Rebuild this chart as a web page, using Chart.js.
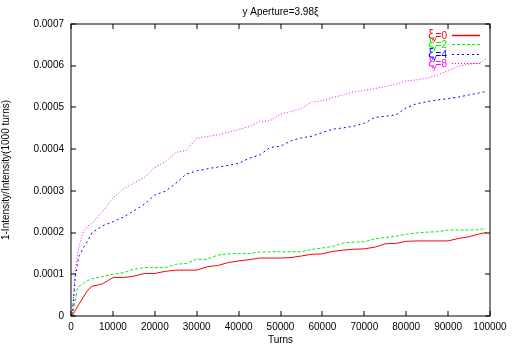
<!DOCTYPE html>
<html>
<head>
<meta charset="utf-8">
<script src="https://cdn.jsdelivr.net/npm/chart.js@4.4.1/dist/chart.umd.min.js"></script>
<style>
  html, body { margin: 0; padding: 0; background: #fff; }
  #wrap { width: 512px; height: 348px; }
</style>
</head>
<body>
<div id="wrap"><canvas id="chart"></canvas></div>
<script>
// values, intensity loss in units of 1e-4
const turns = [300, 1000, 1500, 2000, 3000, 4000, 5000, 7500, 10000, 12500, 15000, 17500, 20000, 22500, 25000, 27500, 30000,
  32500, 35000, 37500, 40000, 42500, 45000, 47500, 50000, 52500, 55000, 57500, 60000, 62500, 65000, 67500, 70000,
  72500, 75000, 77500, 80000, 82500, 85000, 87500, 90000, 92500, 95000, 97500, 99000];
const xi0 = [0, 0.13, 0.22, 0.30, 0.46, 0.62, 0.71, 0.77, 0.92, 0.92, 0.955, 1.02, 1.02, 1.07, 1.10, 1.10, 1.10,
  1.18, 1.21, 1.28, 1.32, 1.35, 1.39, 1.39, 1.39, 1.40, 1.44, 1.48, 1.49, 1.55, 1.58, 1.60, 1.61,
  1.65, 1.73, 1.74, 1.79, 1.80, 1.80, 1.80, 1.80, 1.86, 1.90, 1.97, 2.00];
const xi2 = [0, 0.36, 0.66, 0.72, 0.78, 0.85, 0.89, 0.95, 1.00, 1.04, 1.12, 1.16, 1.16, 1.16, 1.24, 1.26, 1.36,
  1.36, 1.46, 1.49, 1.50, 1.50, 1.53, 1.54, 1.54, 1.54, 1.54, 1.60, 1.63, 1.67, 1.75, 1.77, 1.78,
  1.85, 1.88, 1.91, 1.96, 1.99, 2.01, 2.02, 2.06, 2.06, 2.06, 2.07, 2.10];
const xi4 = [0, 0.90, 1.25, 1.45, 1.64, 1.80, 2.00, 2.16, 2.26, 2.37, 2.52, 2.68, 2.90, 2.99, 3.18, 3.40, 3.48,
  3.53, 3.57, 3.61, 3.66, 3.78, 3.86, 4.04, 4.07, 4.20, 4.27, 4.31, 4.40, 4.48, 4.51, 4.55, 4.62,
  4.76, 4.79, 4.82, 4.99, 5.09, 5.14, 5.18, 5.21, 5.25, 5.30, 5.35, 5.38];
const xi8 = [0, 1.05, 1.42, 1.70, 2.04, 2.15, 2.22, 2.50, 2.83, 3.05, 3.19, 3.32, 3.56, 3.70, 3.92, 3.97, 4.26,
  4.30, 4.34, 4.40, 4.47, 4.54, 4.66, 4.68, 4.84, 4.90, 4.98, 5.13, 5.16, 5.24, 5.30, 5.38, 5.41,
  5.45, 5.50, 5.55, 5.64, 5.66, 5.70, 5.78, 5.88, 5.99, 6.04, 6.06, 6.17];

const seriesNames = ['0', '2', '4', '8'];
const seriesColors = ['#ff0000', '#00ee00', '#0000ff', '#ff00ff'];
const seriesDash = [[], [3, 2], [2, 3], [1, 2]];
const seriesValues = [xi0, xi2, xi4, xi8];

const FONT = '"Liberation Sans", Arial, sans-serif';

const datasets = seriesValues.map((vals, i) => ({
  label: 'ξy=' + seriesNames[i],
  data: turns.map((t, k) => ({ x: t, y: vals[k] * 1e-4 })),
  borderColor: seriesColors[i],
  borderWidth: 1,
  borderDash: seriesDash[i],
  pointRadius: 0,
  tension: 0,
  fill: false
}));

// gnuplot style frame, inward ticks, title and legend
const framePlugin = {
  id: 'frame',
  afterDraw(chart) {
    const ctx = chart.ctx;
    const a = chart.chartArea;
    const xs = chart.scales.x, ys = chart.scales.y;
    ctx.save();
    ctx.strokeStyle = '#000';
    ctx.lineWidth = 1;
    ctx.setLineDash([]);
    ctx.strokeRect(a.left, a.top, a.right - a.left, a.bottom - a.top);
    ctx.beginPath();
    xs.ticks.forEach(t => {
      const px = Math.round(xs.getPixelForValue(t.value));
      ctx.moveTo(px, a.bottom); ctx.lineTo(px, a.bottom - 5);
      ctx.moveTo(px, a.top); ctx.lineTo(px, a.top + 5);
    });
    ys.ticks.forEach(t => {
      const py = Math.round(ys.getPixelForValue(t.value));
      ctx.moveTo(a.left, py); ctx.lineTo(a.left + 5, py);
      ctx.moveTo(a.right, py); ctx.lineTo(a.right - 5, py);
    });
    ctx.stroke();

    // title
    ctx.fillStyle = '#000';
    ctx.font = '10px ' + FONT;
    ctx.textAlign = 'center';
    ctx.textBaseline = 'middle';
    ctx.fillText('y Aperture=3.98ξ', (a.left + a.right) / 2, 12);

    // legend
    const rowY = [35, 44, 54, 63];
    const rightText = 447;
    seriesNames.forEach((name, i) => {
      const y = rowY[i];
      const rest = '=' + name;
      ctx.font = '10px ' + FONT;
      const wRest = ctx.measureText(rest).width;
      ctx.font = '12px ' + FONT;
      const wXi = ctx.measureText('ξ').width;
      ctx.font = '8px ' + FONT;
      const wY = ctx.measureText('y').width;
      let x = rightText - wRest - wY - wXi + 2;
      ctx.fillStyle = seriesColors[i];
      ctx.textAlign = 'left';
      ctx.textBaseline = 'alphabetic';
      ctx.font = '12px ' + FONT;
      ctx.fillText('ξ', x, y + 3);
      x += wXi - 1;
      ctx.font = '8px ' + FONT;
      ctx.fillText('y', x, y + 6);
      x += wY - 1;
      ctx.font = '10px ' + FONT;
      ctx.fillText(rest, x, y + 4);
      ctx.strokeStyle = seriesColors[i];
      ctx.lineWidth = seriesDash[i].length === 0 ? 1.5 : 1;
      ctx.setLineDash(seriesDash[i]);
      ctx.beginPath();
      ctx.moveTo(452, y + 0.5);
      ctx.lineTo(480, y + 0.5);
      ctx.stroke();
    });
    ctx.restore();
  }
};

new Chart(document.getElementById('chart'), {
  type: 'line',
  data: { datasets: datasets },
  plugins: [framePlugin],
  options: {
    responsive: true,
    maintainAspectRatio: false,
    animation: false,
    layout: { padding: { top: 24, right: 22, left: 0, bottom: 0 } },
    plugins: {
      legend: { display: false },
      tooltip: { enabled: false },
      title: { display: false }
    },
    scales: {
      x: {
        type: 'linear',
        min: 0,
        max: 100000,
        afterFit: s => { s.height = 32; },
        grid: { display: false, drawTicks: false },
        border: { display: false },
        ticks: {
          stepSize: 10000,
          padding: 5,
          color: '#000',
          font: { family: FONT, size: 10 },
          maxRotation: 0,
          autoSkip: false,
          callback: v => String(v)
        },
        title: {
          display: true,
          text: 'Turns',
          color: '#000',
          font: { family: FONT, size: 10 },
          padding: { top: 0, bottom: 2 }
        }
      },
      y: {
        min: 0,
        max: 0.0007,
        afterFit: s => { s.width = 71; },
        grid: { display: false, drawTicks: false },
        border: { display: false },
        ticks: {
          stepSize: 0.0001,
          padding: 7,
          color: '#000',
          font: { family: FONT, size: 10 },
          callback: v => (Math.abs(v) < 1e-9 ? '0' : v.toFixed(4))
        },
        title: {
          display: true,
          text: '1-Intensity/Intensity(1000 turns)',
          color: '#000',
          font: { family: FONT, size: 10 },
          padding: { top: 0, bottom: 0 }
        }
      }
    }
  }
});
</script>
</body>
</html>
